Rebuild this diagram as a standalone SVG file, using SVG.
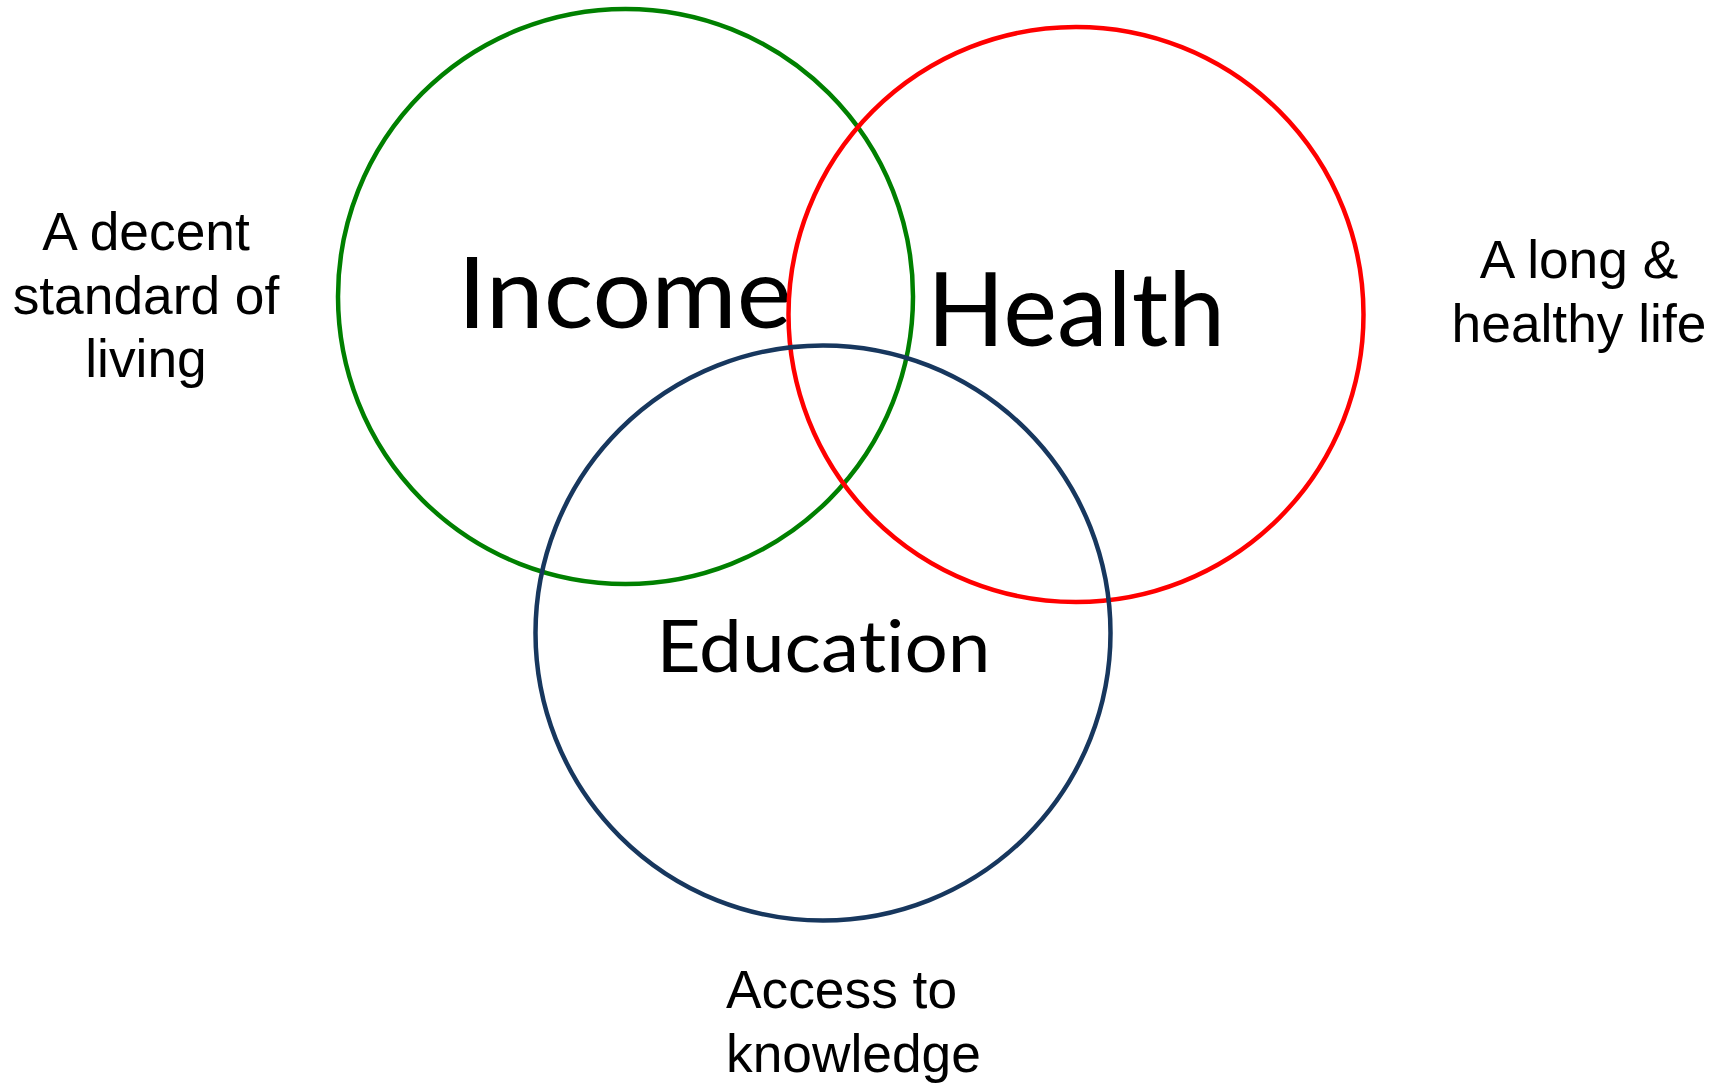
<svg xmlns="http://www.w3.org/2000/svg" width="1725" height="1085" viewBox="0 0 1725 1085">
<style>
.ring{fill:none;stroke-width:4.5}
.big{font-family:Lato,"Open Sans","Noto Sans",sans-serif;fill:#000;text-anchor:middle;font-variant-ligatures:none;font-feature-settings:"liga" 0,"clig" 0}
.note{font-family:"Liberation Sans",Arial,sans-serif;fill:#000;font-size:53.3px}
</style>
<rect width="1725" height="1085" fill="#fff"/>
<g id="connectors"></g>
<g id="income">
<circle class="ring" cx="625.5" cy="296.5" r="287.5" stroke="#008000"/>
<text class="big" x="624.5" y="328" font-size="98" textLength="334" lengthAdjust="spacingAndGlyphs">Income</text>
</g>
<g id="health">
<circle class="ring" cx="1076" cy="314.5" r="287.5" stroke="#FF0000"/>
<text class="big" x="1076" y="346" font-size="102" textLength="298" lengthAdjust="spacingAndGlyphs">Health</text>
</g>
<g id="education">
<circle class="ring" cx="823" cy="633" r="287.5" stroke="#17375E"/>
<text class="big" x="823.5" y="672" font-size="71" textLength="334" lengthAdjust="spacingAndGlyphs">Education</text>
</g>
<g id="label-income">
<text class="note" text-anchor="middle" x="146"><tspan x="146" y="250">A decent</tspan><tspan x="146" y="313.5">standard of</tspan><tspan x="146" y="377">living</tspan></text>
</g>
<g id="label-health">
<text class="note" text-anchor="middle" x="1579"><tspan x="1579" y="278">A long &amp;</tspan><tspan x="1579" y="342">healthy life</tspan></text>
</g>
<g id="label-education">
<text class="note" x="726"><tspan x="726" y="1008">Access to</tspan><tspan x="726" y="1072">knowledge</tspan></text>
</g>
</svg>
